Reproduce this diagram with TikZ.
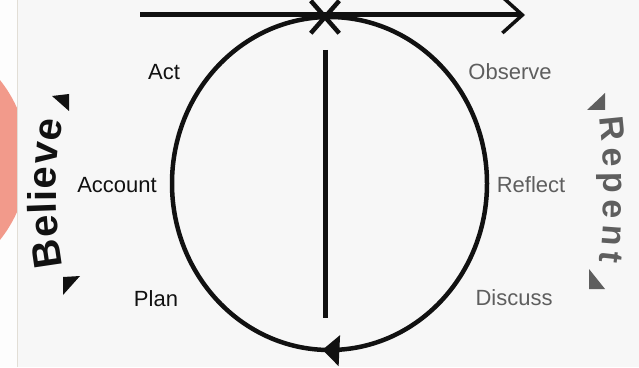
\documentclass[tikz,border=0pt]{standalone}
\usepackage{fontspec}
\setmainfont{Liberation Sans}
\usetikzlibrary{arrows.meta, shapes.misc, decorations.markings, decorations.text}

\definecolor{paper}{HTML}{F7F7F7}
\definecolor{margin}{HTML}{FDFDFD}
\definecolor{edgegrey}{HTML}{E2DED6}
\definecolor{salmon}{HTML}{F29A8B}
\definecolor{ink}{HTML}{111111}
\definecolor{greyink}{HTML}{5E5E5E}

\newcommand{\stepfont}{\fontsize{22}{26}\selectfont}
\newcommand{\believefont}{\fontsize{40}{40}\selectfont\bfseries}
\newcommand{\repentfont}{\fontsize{34}{34}\selectfont\bfseries}

\begin{document}
\begin{tikzpicture}[x=1pt, y=1pt, decoration={
				markings,
				mark=at position 0.743 with {\arrowreversed{Triangle[length=17pt,width=30pt]}}}
	]

	\tikzset{
		stage/.style={
				font=\stepfont, text=ink, inner sep=0pt
			},
		stageR/.style={
				stage, text=greyink
			},
		ring/.style={
				draw=ink, line width=4.5pt
			},
		timeline/.style={
				draw=ink, line width=5pt, -{Straight Barb[length=20pt,width=36pt,line width=3.5pt]}
			},
		tri/.style={
				fill=ink
			},
		triR/.style={
				fill=greyink
			},
	}

	\useasboundingbox (0,0) rectangle (639,367);
	\fill[paper] (0,0) rectangle (639,367);
	\fill[margin] (0,0) rectangle (17,367);
	\coordinate (blob) at (-100,207);
	\begin{scope}
		\clip (0,0) rectangle (17,367);
		\fill[salmon] (blob) circle (128);
	\end{scope}
	\draw[edgegrey, line width=1pt] (17,0) -- (17,367);

	\coordinate (hub) at (329.5,183.5);
	\draw[ring, postaction={decorate}] (hub) ellipse [x radius=157.5, y radius=166.5];

	\coordinate (tl) at (140,352);
	\coordinate (tr) at (525,352);
	\draw[timeline] (tl) to (tr);
	\node[cross out, draw=ink, line width=4.5pt, minimum width=24pt, minimum height=28pt, inner sep=0pt] (mark) at (325,350) {};

	\coordinate (vt) at (325,317);
	\coordinate (vb) at (325,49);
	\draw[draw=ink, line width=5pt] (vt) to (vb);

	\node[stage] (act) at (164,295) {Act};
	\node[stage] (account) at (117,182) {Account};
	\node[stage] (plan) at (156,68) {Plan};
	\node[stageR] (observe) at (510,295.5) {Observe};
	\node[stageR] (reflect) at (531,182) {Reflect};
	\node[stageR] (discuss) at (514,69) {Discuss};

	\coordinate (believeC) at (456,173.5);
	\path[decoration={text along path, text={|\believefont|Believe}, text color=ink, text align={fit to path}}, decorate]
		([shift={(190.5:400)}]believeC) arc[start angle=190.5, end angle=169.5, radius=400];
	\fill[tri] (52,271) -- (69,273) -- (69,256) -- cycle;
	\fill[tri] (63,90) -- (80,91) -- (63,72) -- cycle;

	\coordinate (repentC) at (4,177);
	\path[decoration={text along path, text={|\repentfont|Repent}, text color=greyink, text align={fit to path}}, decorate]
		([shift={(6.9:600)}]repentC) arc[start angle=6.9, end angle=-6.9, radius=600];
	\fill[triR] (587,257) -- (605,257) -- (605,274) -- cycle;
	\fill[triR] (589,98) -- (589,78) -- (605,78) -- cycle;
\end{tikzpicture}
\end{document}
